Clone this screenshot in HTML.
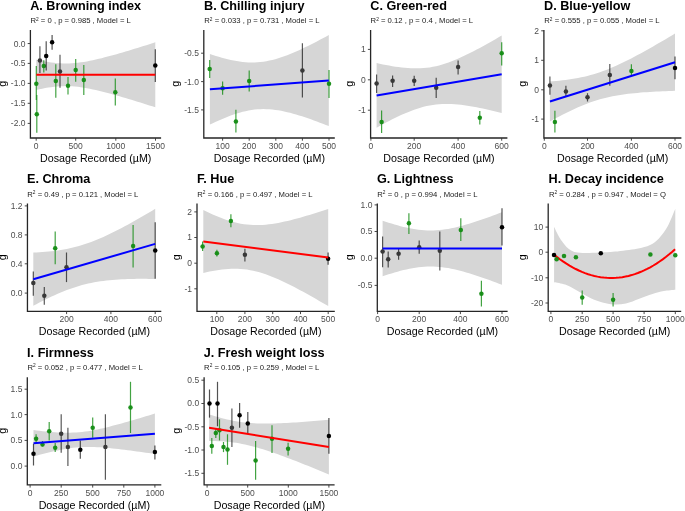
<!DOCTYPE html><html><head><meta charset="utf-8"><style>html,body{margin:0;padding:0;background:#fff;}svg{display:block;will-change:transform;}text{font-family:"Liberation Sans",sans-serif;}</style></head><body>
<svg width="685" height="511" viewBox="0 0 685 511">
<rect width="685" height="511" fill="#fff"/>
<polygon points="36.30,59.70 39.27,60.35 42.25,60.96 45.22,61.52 48.20,62.02 51.17,62.46 54.15,62.83 57.12,63.13 60.10,63.34 63.08,63.46 66.05,63.50 69.03,63.44 72.00,63.30 74.97,63.07 77.95,62.76 80.93,62.37 83.90,61.92 86.88,61.41 89.85,60.84 92.83,60.22 95.80,59.56 98.78,58.86 101.75,58.13 104.73,57.37 107.70,56.59 110.68,55.79 113.65,54.97 116.63,54.13 119.60,53.27 122.58,52.40 125.55,51.52 128.53,50.63 131.50,49.73 134.48,48.83 137.45,47.91 140.43,46.99 143.40,46.06 146.38,45.13 149.35,44.19 152.33,43.25 155.30,42.30 155.30,107.30 152.33,106.35 149.35,105.41 146.38,104.47 143.40,103.54 140.43,102.61 137.45,101.69 134.48,100.77 131.50,99.87 128.53,98.97 125.55,98.08 122.58,97.20 119.60,96.33 116.63,95.47 113.65,94.63 110.68,93.81 107.70,93.01 104.73,92.23 101.75,91.47 98.78,90.74 95.80,90.04 92.83,89.38 89.85,88.76 86.88,88.19 83.90,87.68 80.93,87.23 77.95,86.84 74.97,86.53 72.00,86.30 69.03,86.16 66.05,86.10 63.08,86.14 60.10,86.26 57.12,86.47 54.15,86.77 51.17,87.14 48.20,87.58 45.22,88.08 42.25,88.64 39.27,89.25 36.30,89.90" fill="#d6d6d6"/>
<line x1="36.30" y1="66.10" x2="36.30" y2="100.00" stroke="#138c13" stroke-opacity="0.8" stroke-width="1.2"/>
<circle cx="36.30" cy="83.70" r="2.25" fill="#138c13" fill-opacity="0.95"/>
<line x1="36.80" y1="95.00" x2="36.80" y2="132.70" stroke="#138c13" stroke-opacity="0.8" stroke-width="1.2"/>
<circle cx="36.80" cy="114.20" r="2.25" fill="#138c13" fill-opacity="0.95"/>
<line x1="39.90" y1="46.20" x2="39.90" y2="73.00" stroke="#000" stroke-opacity="0.65" stroke-width="1.2"/>
<circle cx="39.90" cy="60.60" r="2.25" fill="#383838" fill-opacity="1"/>
<line x1="43.80" y1="60.20" x2="43.80" y2="72.40" stroke="#138c13" stroke-opacity="0.8" stroke-width="1.2"/>
<circle cx="43.80" cy="66.10" r="2.25" fill="#138c13" fill-opacity="0.95"/>
<line x1="46.20" y1="41.30" x2="46.20" y2="70.50" stroke="#000" stroke-opacity="0.68" stroke-width="1.2"/>
<circle cx="46.20" cy="56.10" r="2.25" fill="#000" fill-opacity="1"/>
<line x1="52.10" y1="35.00" x2="52.10" y2="49.70" stroke="#000" stroke-opacity="0.68" stroke-width="1.2"/>
<circle cx="52.10" cy="42.30" r="2.25" fill="#000" fill-opacity="1"/>
<line x1="55.80" y1="64.20" x2="55.80" y2="97.70" stroke="#138c13" stroke-opacity="0.8" stroke-width="1.2"/>
<circle cx="55.80" cy="80.90" r="2.25" fill="#138c13" fill-opacity="0.95"/>
<line x1="60.00" y1="54.70" x2="60.00" y2="87.80" stroke="#000" stroke-opacity="0.65" stroke-width="1.2"/>
<circle cx="60.00" cy="71.50" r="2.25" fill="#383838" fill-opacity="1"/>
<line x1="68.00" y1="77.00" x2="68.00" y2="94.50" stroke="#138c13" stroke-opacity="0.8" stroke-width="1.2"/>
<circle cx="68.00" cy="85.80" r="2.25" fill="#138c13" fill-opacity="0.95"/>
<line x1="75.70" y1="59.00" x2="75.70" y2="81.70" stroke="#138c13" stroke-opacity="0.8" stroke-width="1.2"/>
<circle cx="75.70" cy="70.10" r="2.25" fill="#138c13" fill-opacity="0.95"/>
<line x1="83.80" y1="65.00" x2="83.80" y2="95.10" stroke="#138c13" stroke-opacity="0.8" stroke-width="1.2"/>
<circle cx="83.80" cy="79.90" r="2.25" fill="#138c13" fill-opacity="0.95"/>
<line x1="115.30" y1="78.40" x2="115.30" y2="105.60" stroke="#138c13" stroke-opacity="0.8" stroke-width="1.2"/>
<circle cx="115.30" cy="92.20" r="2.25" fill="#138c13" fill-opacity="0.95"/>
<line x1="155.30" y1="49.20" x2="155.30" y2="81.90" stroke="#000" stroke-opacity="0.68" stroke-width="1.2"/>
<circle cx="155.30" cy="65.50" r="2.25" fill="#000" fill-opacity="1"/>
<line x1="36.30" y1="74.80" x2="155.30" y2="74.80" stroke="#ff0000" stroke-width="2"/>
<path d="M30.40 30.00 V138.00 H161.10" fill="none" stroke="#262626" stroke-width="1.3"/>
<line x1="27.70" y1="43.55" x2="30.40" y2="43.55" stroke="#333" stroke-width="0.9"/>
<text x="25.50" y="46.50" font-size="8.5" fill="#4d4d4d" text-anchor="end">0.0</text>
<line x1="27.70" y1="63.40" x2="30.40" y2="63.40" stroke="#333" stroke-width="0.9"/>
<text x="25.50" y="66.35" font-size="8.5" fill="#4d4d4d" text-anchor="end">-0.5</text>
<line x1="27.70" y1="83.40" x2="30.40" y2="83.40" stroke="#333" stroke-width="0.9"/>
<text x="25.50" y="86.35" font-size="8.5" fill="#4d4d4d" text-anchor="end">-1.0</text>
<line x1="27.70" y1="103.30" x2="30.40" y2="103.30" stroke="#333" stroke-width="0.9"/>
<text x="25.50" y="106.25" font-size="8.5" fill="#4d4d4d" text-anchor="end">-1.5</text>
<line x1="27.70" y1="123.40" x2="30.40" y2="123.40" stroke="#333" stroke-width="0.9"/>
<text x="25.50" y="126.35" font-size="8.5" fill="#4d4d4d" text-anchor="end">-2.0</text>
<line x1="36.20" y1="138.00" x2="36.20" y2="140.70" stroke="#333" stroke-width="0.9"/>
<text x="36.20" y="148.80" font-size="8.5" fill="#4d4d4d" text-anchor="middle">0</text>
<line x1="75.70" y1="138.00" x2="75.70" y2="140.70" stroke="#333" stroke-width="0.9"/>
<text x="75.70" y="148.80" font-size="8.5" fill="#4d4d4d" text-anchor="middle">500</text>
<line x1="115.80" y1="138.00" x2="115.80" y2="140.70" stroke="#333" stroke-width="0.9"/>
<text x="115.80" y="148.80" font-size="8.5" fill="#4d4d4d" text-anchor="middle">1000</text>
<line x1="155.50" y1="138.00" x2="155.50" y2="140.70" stroke="#333" stroke-width="0.9"/>
<text x="155.50" y="148.80" font-size="8.5" fill="#4d4d4d" text-anchor="middle">1500</text>
<text x="95.75" y="161.70" font-size="10.7" fill="#000" text-anchor="middle">Dosage Recorded (µM)</text>
<text transform="translate(6.05 83.70) rotate(-90)" font-size="10.7" fill="#000" text-anchor="middle">g</text>
<text x="30.20" y="10.10" font-size="12.65" font-weight="bold" fill="#000">A. Browning index</text>
<text x="30.50" y="23.20" font-size="7.7" fill="#1a1a1a">R<tspan font-size="4.8" dy="-2.7">2</tspan><tspan dy="2.7"> = 0 , p = 0.985 , Model = L</tspan></text>
<polygon points="209.90,54.00 212.87,54.98 215.84,55.93 218.82,56.83 221.79,57.69 224.76,58.50 227.74,59.25 230.71,59.95 233.68,60.57 236.65,61.11 239.62,61.58 242.60,61.96 245.57,62.24 248.54,62.42 251.52,62.50 254.49,62.46 257.46,62.32 260.43,62.06 263.41,61.69 266.38,61.21 269.35,60.62 272.32,59.93 275.30,59.14 278.27,58.26 281.24,57.30 284.21,56.26 287.19,55.16 290.16,53.98 293.13,52.76 296.10,51.47 299.07,50.15 302.05,48.78 305.02,47.37 307.99,45.92 310.97,44.45 313.94,42.95 316.91,41.42 319.88,39.87 322.86,38.30 325.83,36.71 328.80,35.10 328.80,126.10 325.83,124.93 322.86,123.77 319.88,122.64 316.91,121.52 313.94,120.43 310.97,119.36 307.99,118.32 305.02,117.31 302.05,116.34 299.07,115.40 296.10,114.51 293.13,113.66 290.16,112.87 287.19,112.13 284.21,111.46 281.24,110.86 278.27,110.33 275.30,109.89 272.32,109.54 269.35,109.28 266.38,109.13 263.41,109.08 260.43,109.14 257.46,109.32 254.49,109.61 251.52,110.01 248.54,110.52 245.57,111.14 242.60,111.86 239.62,112.67 236.65,113.57 233.68,114.55 230.71,115.61 227.74,116.74 224.76,117.92 221.79,119.17 218.82,120.46 215.84,121.80 212.87,123.18 209.90,124.60" fill="#d6d6d6"/>
<line x1="209.70" y1="59.90" x2="209.70" y2="78.00" stroke="#138c13" stroke-opacity="0.8" stroke-width="1.2"/>
<circle cx="209.70" cy="68.90" r="2.25" fill="#138c13" fill-opacity="0.95"/>
<line x1="222.60" y1="81.50" x2="222.60" y2="94.80" stroke="#138c13" stroke-opacity="0.8" stroke-width="1.2"/>
<circle cx="222.60" cy="88.20" r="2.25" fill="#138c13" fill-opacity="0.95"/>
<line x1="235.90" y1="109.80" x2="235.90" y2="132.40" stroke="#138c13" stroke-opacity="0.8" stroke-width="1.2"/>
<circle cx="235.90" cy="121.40" r="2.25" fill="#138c13" fill-opacity="0.95"/>
<line x1="249.20" y1="70.50" x2="249.20" y2="91.50" stroke="#138c13" stroke-opacity="0.8" stroke-width="1.2"/>
<circle cx="249.20" cy="80.90" r="2.25" fill="#138c13" fill-opacity="0.95"/>
<line x1="302.40" y1="43.30" x2="302.40" y2="97.50" stroke="#000" stroke-opacity="0.65" stroke-width="1.2"/>
<circle cx="302.40" cy="70.50" r="2.25" fill="#383838" fill-opacity="1"/>
<line x1="329.00" y1="69.90" x2="329.00" y2="98.10" stroke="#138c13" stroke-opacity="0.8" stroke-width="1.2"/>
<circle cx="329.00" cy="83.80" r="2.25" fill="#138c13" fill-opacity="0.95"/>
<line x1="209.90" y1="89.30" x2="328.80" y2="80.60" stroke="#0000ff" stroke-width="2"/>
<path d="M203.80 30.00 V138.00 H334.80" fill="none" stroke="#262626" stroke-width="1.3"/>
<line x1="201.10" y1="53.20" x2="203.80" y2="53.20" stroke="#333" stroke-width="0.9"/>
<text x="198.90" y="56.15" font-size="8.5" fill="#4d4d4d" text-anchor="end">-0.5</text>
<line x1="201.10" y1="81.60" x2="203.80" y2="81.60" stroke="#333" stroke-width="0.9"/>
<text x="198.90" y="84.55" font-size="8.5" fill="#4d4d4d" text-anchor="end">-1.0</text>
<line x1="201.10" y1="109.90" x2="203.80" y2="109.90" stroke="#333" stroke-width="0.9"/>
<text x="198.90" y="112.85" font-size="8.5" fill="#4d4d4d" text-anchor="end">-1.5</text>
<line x1="222.60" y1="138.00" x2="222.60" y2="140.70" stroke="#333" stroke-width="0.9"/>
<text x="222.60" y="148.80" font-size="8.5" fill="#4d4d4d" text-anchor="middle">100</text>
<line x1="249.20" y1="138.00" x2="249.20" y2="140.70" stroke="#333" stroke-width="0.9"/>
<text x="249.20" y="148.80" font-size="8.5" fill="#4d4d4d" text-anchor="middle">200</text>
<line x1="275.80" y1="138.00" x2="275.80" y2="140.70" stroke="#333" stroke-width="0.9"/>
<text x="275.80" y="148.80" font-size="8.5" fill="#4d4d4d" text-anchor="middle">300</text>
<line x1="302.40" y1="138.00" x2="302.40" y2="140.70" stroke="#333" stroke-width="0.9"/>
<text x="302.40" y="148.80" font-size="8.5" fill="#4d4d4d" text-anchor="middle">400</text>
<line x1="329.00" y1="138.00" x2="329.00" y2="140.70" stroke="#333" stroke-width="0.9"/>
<text x="329.00" y="148.80" font-size="8.5" fill="#4d4d4d" text-anchor="middle">500</text>
<text x="269.30" y="161.70" font-size="10.7" fill="#000" text-anchor="middle">Dosage Recorded (µM)</text>
<text transform="translate(179.45 83.70) rotate(-90)" font-size="10.7" fill="#000" text-anchor="middle">g</text>
<text x="204.00" y="10.10" font-size="12.65" font-weight="bold" fill="#000">B. Chilling injury</text>
<text x="204.30" y="23.20" font-size="7.7" fill="#1a1a1a">R<tspan font-size="4.8" dy="-2.7">2</tspan><tspan dy="2.7"> = 0.033 , p = 0.731 , Model = L</tspan></text>
<polygon points="376.60,63.10 379.73,63.77 382.86,64.41 385.98,65.02 389.11,65.59 392.24,66.13 395.37,66.63 398.49,67.07 401.62,67.47 404.75,67.80 407.88,68.06 411.00,68.25 414.13,68.36 417.26,68.37 420.38,68.29 423.51,68.10 426.64,67.79 429.77,67.38 432.89,66.84 436.02,66.19 439.15,65.42 442.28,64.55 445.40,63.56 448.53,62.48 451.66,61.31 454.79,60.06 457.91,58.73 461.04,57.33 464.17,55.87 467.30,54.36 470.43,52.80 473.55,51.20 476.68,49.56 479.81,47.89 482.94,46.19 486.06,44.46 489.19,42.70 492.32,40.93 495.44,39.14 498.57,37.33 501.70,35.50 501.70,112.90 498.57,112.13 495.44,111.38 492.32,110.65 489.19,109.94 486.06,109.24 482.94,108.57 479.81,107.93 476.68,107.32 473.55,106.74 470.43,106.20 467.30,105.70 464.17,105.25 461.04,104.85 457.91,104.51 454.79,104.24 451.66,104.05 448.53,103.94 445.40,103.92 442.28,103.99 439.15,104.18 436.02,104.47 432.89,104.88 429.77,105.40 426.64,106.05 423.51,106.80 420.38,107.67 417.26,108.65 414.13,109.72 411.00,110.89 407.88,112.14 404.75,113.46 401.62,114.85 398.49,116.31 395.37,117.81 392.24,119.37 389.11,120.97 385.98,122.60 382.86,124.27 379.73,125.97 376.60,127.70" fill="#d6d6d6"/>
<line x1="376.60" y1="74.50" x2="376.60" y2="93.10" stroke="#000" stroke-opacity="0.65" stroke-width="1.2"/>
<circle cx="376.60" cy="83.40" r="2.25" fill="#383838" fill-opacity="1"/>
<line x1="381.60" y1="110.40" x2="381.60" y2="133.00" stroke="#138c13" stroke-opacity="0.8" stroke-width="1.2"/>
<circle cx="381.60" cy="122.00" r="2.25" fill="#138c13" fill-opacity="0.95"/>
<line x1="392.60" y1="75.50" x2="392.60" y2="87.10" stroke="#000" stroke-opacity="0.65" stroke-width="1.2"/>
<circle cx="392.60" cy="80.80" r="2.25" fill="#383838" fill-opacity="1"/>
<line x1="414.20" y1="75.80" x2="414.20" y2="86.10" stroke="#000" stroke-opacity="0.65" stroke-width="1.2"/>
<circle cx="414.20" cy="80.80" r="2.25" fill="#383838" fill-opacity="1"/>
<line x1="436.20" y1="77.80" x2="436.20" y2="98.10" stroke="#000" stroke-opacity="0.65" stroke-width="1.2"/>
<circle cx="436.20" cy="87.80" r="2.25" fill="#383838" fill-opacity="1"/>
<line x1="458.10" y1="60.50" x2="458.10" y2="74.50" stroke="#000" stroke-opacity="0.65" stroke-width="1.2"/>
<circle cx="458.10" cy="67.10" r="2.25" fill="#383838" fill-opacity="1"/>
<line x1="479.80" y1="111.10" x2="479.80" y2="124.40" stroke="#138c13" stroke-opacity="0.8" stroke-width="1.2"/>
<circle cx="479.80" cy="117.70" r="2.25" fill="#138c13" fill-opacity="0.95"/>
<line x1="501.70" y1="42.20" x2="501.70" y2="65.50" stroke="#138c13" stroke-opacity="0.8" stroke-width="1.2"/>
<circle cx="501.70" cy="53.20" r="2.25" fill="#138c13" fill-opacity="0.95"/>
<line x1="376.60" y1="95.40" x2="501.70" y2="74.20" stroke="#0000ff" stroke-width="2"/>
<path d="M370.60 30.00 V138.00 H507.40" fill="none" stroke="#262626" stroke-width="1.3"/>
<line x1="367.90" y1="49.40" x2="370.60" y2="49.40" stroke="#333" stroke-width="0.9"/>
<text x="365.70" y="52.35" font-size="8.5" fill="#4d4d4d" text-anchor="end">1</text>
<line x1="367.90" y1="79.80" x2="370.60" y2="79.80" stroke="#333" stroke-width="0.9"/>
<text x="365.70" y="82.75" font-size="8.5" fill="#4d4d4d" text-anchor="end">0</text>
<line x1="367.90" y1="110.20" x2="370.60" y2="110.20" stroke="#333" stroke-width="0.9"/>
<text x="365.70" y="113.15" font-size="8.5" fill="#4d4d4d" text-anchor="end">-1</text>
<line x1="370.90" y1="138.00" x2="370.90" y2="140.70" stroke="#333" stroke-width="0.9"/>
<text x="370.90" y="148.80" font-size="8.5" fill="#4d4d4d" text-anchor="middle">0</text>
<line x1="414.20" y1="138.00" x2="414.20" y2="140.70" stroke="#333" stroke-width="0.9"/>
<text x="414.20" y="148.80" font-size="8.5" fill="#4d4d4d" text-anchor="middle">200</text>
<line x1="458.10" y1="138.00" x2="458.10" y2="140.70" stroke="#333" stroke-width="0.9"/>
<text x="458.10" y="148.80" font-size="8.5" fill="#4d4d4d" text-anchor="middle">400</text>
<line x1="501.70" y1="138.00" x2="501.70" y2="140.70" stroke="#333" stroke-width="0.9"/>
<text x="501.70" y="148.80" font-size="8.5" fill="#4d4d4d" text-anchor="middle">600</text>
<text x="439.00" y="161.70" font-size="10.7" fill="#000" text-anchor="middle">Dosage Recorded (µM)</text>
<text transform="translate(352.80 83.70) rotate(-90)" font-size="10.7" fill="#000" text-anchor="middle">g</text>
<text x="370.30" y="10.10" font-size="12.65" font-weight="bold" fill="#000">C. Green-red</text>
<text x="370.60" y="23.20" font-size="7.7" fill="#1a1a1a">R<tspan font-size="4.8" dy="-2.7">2</tspan><tspan dy="2.7"> = 0.12 , p = 0.4 , Model = L</tspan></text>
<polygon points="549.90,81.50 553.03,81.24 556.15,80.96 559.28,80.65 562.41,80.31 565.54,79.93 568.66,79.51 571.79,79.05 574.92,78.54 578.05,77.98 581.17,77.36 584.30,76.68 587.43,75.93 590.56,75.11 593.68,74.22 596.81,73.26 599.94,72.22 603.07,71.11 606.19,69.93 609.32,68.69 612.45,67.37 615.58,66.00 618.71,64.57 621.83,63.09 624.96,61.57 628.09,60.00 631.22,58.40 634.34,56.76 637.47,55.09 640.60,53.40 643.73,51.68 646.85,49.94 649.98,48.18 653.11,46.40 656.24,44.61 659.36,42.80 662.49,40.98 665.62,39.15 668.75,37.31 671.87,35.46 675.00,33.60 675.00,90.80 671.87,90.91 668.75,91.02 665.62,91.14 662.49,91.28 659.36,91.42 656.24,91.58 653.11,91.75 649.98,91.94 646.85,92.15 643.73,92.37 640.60,92.62 637.47,92.89 634.34,93.18 631.22,93.51 628.09,93.87 624.96,94.27 621.83,94.71 618.71,95.20 615.58,95.73 612.45,96.33 609.32,96.98 606.19,97.70 603.07,98.48 599.94,99.34 596.81,100.26 593.68,101.27 590.56,102.34 587.43,103.49 584.30,104.71 581.17,105.99 578.05,107.34 574.92,108.74 571.79,110.19 568.66,111.70 565.54,113.25 562.41,114.83 559.28,116.46 556.15,118.11 553.03,119.79 549.90,121.50" fill="#d6d6d6"/>
<line x1="549.90" y1="76.50" x2="549.90" y2="94.80" stroke="#000" stroke-opacity="0.65" stroke-width="1.2"/>
<circle cx="549.90" cy="85.50" r="2.25" fill="#383838" fill-opacity="1"/>
<line x1="554.90" y1="110.80" x2="554.90" y2="132.40" stroke="#138c13" stroke-opacity="0.8" stroke-width="1.2"/>
<circle cx="554.90" cy="122.10" r="2.25" fill="#138c13" fill-opacity="0.95"/>
<line x1="565.90" y1="85.80" x2="565.90" y2="96.50" stroke="#000" stroke-opacity="0.65" stroke-width="1.2"/>
<circle cx="565.90" cy="91.50" r="2.25" fill="#383838" fill-opacity="1"/>
<line x1="587.50" y1="93.20" x2="587.50" y2="101.50" stroke="#000" stroke-opacity="0.65" stroke-width="1.2"/>
<circle cx="587.50" cy="97.20" r="2.25" fill="#383838" fill-opacity="1"/>
<line x1="609.80" y1="63.90" x2="609.80" y2="85.80" stroke="#000" stroke-opacity="0.65" stroke-width="1.2"/>
<circle cx="609.80" cy="74.90" r="2.25" fill="#383838" fill-opacity="1"/>
<line x1="631.40" y1="64.20" x2="631.40" y2="75.90" stroke="#138c13" stroke-opacity="0.8" stroke-width="1.2"/>
<circle cx="631.40" cy="70.90" r="2.25" fill="#138c13" fill-opacity="0.95"/>
<line x1="675.00" y1="56.60" x2="675.00" y2="79.20" stroke="#000" stroke-opacity="0.68" stroke-width="1.2"/>
<circle cx="675.00" cy="67.90" r="2.25" fill="#000" fill-opacity="1"/>
<line x1="549.90" y1="101.50" x2="675.00" y2="62.20" stroke="#0000ff" stroke-width="2"/>
<path d="M543.90 30.00 V138.00 H681.40" fill="none" stroke="#262626" stroke-width="1.3"/>
<line x1="541.20" y1="30.80" x2="543.90" y2="30.80" stroke="#333" stroke-width="0.9"/>
<text x="539.00" y="33.75" font-size="8.5" fill="#4d4d4d" text-anchor="end">2</text>
<line x1="541.20" y1="60.30" x2="543.90" y2="60.30" stroke="#333" stroke-width="0.9"/>
<text x="539.00" y="63.25" font-size="8.5" fill="#4d4d4d" text-anchor="end">1</text>
<line x1="541.20" y1="89.80" x2="543.90" y2="89.80" stroke="#333" stroke-width="0.9"/>
<text x="539.00" y="92.75" font-size="8.5" fill="#4d4d4d" text-anchor="end">0</text>
<line x1="541.20" y1="119.10" x2="543.90" y2="119.10" stroke="#333" stroke-width="0.9"/>
<text x="539.00" y="122.05" font-size="8.5" fill="#4d4d4d" text-anchor="end">-1</text>
<line x1="544.30" y1="138.00" x2="544.30" y2="140.70" stroke="#333" stroke-width="0.9"/>
<text x="544.30" y="148.80" font-size="8.5" fill="#4d4d4d" text-anchor="middle">0</text>
<line x1="587.50" y1="138.00" x2="587.50" y2="140.70" stroke="#333" stroke-width="0.9"/>
<text x="587.50" y="148.80" font-size="8.5" fill="#4d4d4d" text-anchor="middle">200</text>
<line x1="631.40" y1="138.00" x2="631.40" y2="140.70" stroke="#333" stroke-width="0.9"/>
<text x="631.40" y="148.80" font-size="8.5" fill="#4d4d4d" text-anchor="middle">400</text>
<line x1="675.00" y1="138.00" x2="675.00" y2="140.70" stroke="#333" stroke-width="0.9"/>
<text x="675.00" y="148.80" font-size="8.5" fill="#4d4d4d" text-anchor="middle">600</text>
<text x="612.65" y="161.70" font-size="10.7" fill="#000" text-anchor="middle">Dosage Recorded (µM)</text>
<text transform="translate(526.30 83.70) rotate(-90)" font-size="10.7" fill="#000" text-anchor="middle">g</text>
<text x="544.00" y="10.10" font-size="12.65" font-weight="bold" fill="#000">D. Blue-yellow</text>
<text x="544.30" y="23.20" font-size="7.7" fill="#1a1a1a">R<tspan font-size="4.8" dy="-2.7">2</tspan><tspan dy="2.7"> = 0.555 , p = 0.055 , Model = L</tspan></text>
<polygon points="33.30,252.60 36.35,252.47 39.39,252.30 42.44,252.11 45.49,251.87 48.54,251.60 51.58,251.28 54.63,250.91 57.68,250.50 60.73,250.03 63.77,249.51 66.82,248.93 69.87,248.28 72.92,247.58 75.97,246.80 79.01,245.96 82.06,245.05 85.11,244.08 88.16,243.04 91.20,241.93 94.25,240.77 97.30,239.54 100.34,238.25 103.39,236.92 106.44,235.53 109.49,234.09 112.53,232.61 115.58,231.09 118.63,229.53 121.68,227.94 124.72,226.31 127.77,224.66 130.82,222.98 133.87,221.27 136.91,219.55 139.96,217.80 143.01,216.03 146.06,214.25 149.10,212.44 152.15,210.63 155.20,208.80 155.20,279.00 152.15,278.94 149.10,278.89 146.06,278.85 143.01,278.83 139.96,278.83 136.91,278.84 133.87,278.88 130.82,278.94 127.77,279.02 124.72,279.14 121.68,279.28 118.63,279.45 115.58,279.65 112.53,279.90 109.49,280.18 106.44,280.51 103.39,280.89 100.34,281.32 97.30,281.80 94.25,282.33 91.20,282.93 88.16,283.59 85.11,284.32 82.06,285.11 79.01,285.96 75.97,286.89 72.92,287.88 69.87,288.94 66.82,290.06 63.77,291.24 60.73,292.48 57.68,293.78 54.63,295.13 51.58,296.53 48.54,297.98 45.49,299.47 42.44,301.00 39.39,302.57 36.35,304.17 33.30,305.80" fill="#d6d6d6"/>
<line x1="33.30" y1="271.50" x2="33.30" y2="295.80" stroke="#000" stroke-opacity="0.65" stroke-width="1.2"/>
<circle cx="33.30" cy="283.10" r="2.25" fill="#383838" fill-opacity="1"/>
<line x1="44.30" y1="287.10" x2="44.30" y2="304.80" stroke="#000" stroke-opacity="0.65" stroke-width="1.2"/>
<circle cx="44.30" cy="295.80" r="2.25" fill="#383838" fill-opacity="1"/>
<line x1="55.20" y1="231.50" x2="55.20" y2="264.20" stroke="#138c13" stroke-opacity="0.8" stroke-width="1.2"/>
<circle cx="55.20" cy="248.20" r="2.25" fill="#138c13" fill-opacity="0.95"/>
<line x1="66.50" y1="252.50" x2="66.50" y2="282.10" stroke="#000" stroke-opacity="0.65" stroke-width="1.2"/>
<circle cx="66.50" cy="267.20" r="2.25" fill="#383838" fill-opacity="1"/>
<line x1="133.10" y1="224.90" x2="133.10" y2="267.50" stroke="#138c13" stroke-opacity="0.8" stroke-width="1.2"/>
<circle cx="133.10" cy="245.90" r="2.25" fill="#138c13" fill-opacity="0.95"/>
<line x1="155.20" y1="222.20" x2="155.20" y2="278.80" stroke="#000" stroke-opacity="0.68" stroke-width="1.2"/>
<circle cx="155.20" cy="250.50" r="2.25" fill="#000" fill-opacity="1"/>
<line x1="33.30" y1="279.20" x2="155.20" y2="243.90" stroke="#0000ff" stroke-width="2"/>
<path d="M27.45 203.40 V311.40 H161.30" fill="none" stroke="#262626" stroke-width="1.3"/>
<line x1="24.75" y1="205.90" x2="27.45" y2="205.90" stroke="#333" stroke-width="0.9"/>
<text x="22.55" y="208.85" font-size="8.5" fill="#4d4d4d" text-anchor="end">1.2</text>
<line x1="24.75" y1="234.90" x2="27.45" y2="234.90" stroke="#333" stroke-width="0.9"/>
<text x="22.55" y="237.85" font-size="8.5" fill="#4d4d4d" text-anchor="end">0.8</text>
<line x1="24.75" y1="263.80" x2="27.45" y2="263.80" stroke="#333" stroke-width="0.9"/>
<text x="22.55" y="266.75" font-size="8.5" fill="#4d4d4d" text-anchor="end">0.4</text>
<line x1="24.75" y1="293.10" x2="27.45" y2="293.10" stroke="#333" stroke-width="0.9"/>
<text x="22.55" y="296.05" font-size="8.5" fill="#4d4d4d" text-anchor="end">0.0</text>
<line x1="66.60" y1="311.40" x2="66.60" y2="314.10" stroke="#333" stroke-width="0.9"/>
<text x="66.60" y="322.20" font-size="8.5" fill="#4d4d4d" text-anchor="middle">200</text>
<line x1="110.90" y1="311.40" x2="110.90" y2="314.10" stroke="#333" stroke-width="0.9"/>
<text x="110.90" y="322.20" font-size="8.5" fill="#4d4d4d" text-anchor="middle">400</text>
<line x1="155.20" y1="311.40" x2="155.20" y2="314.10" stroke="#333" stroke-width="0.9"/>
<text x="155.20" y="322.20" font-size="8.5" fill="#4d4d4d" text-anchor="middle">600</text>
<text x="94.38" y="335.10" font-size="10.7" fill="#000" text-anchor="middle">Dosage Recorded (µM)</text>
<text transform="translate(6.05 257.20) rotate(-90)" font-size="10.7" fill="#000" text-anchor="middle">g</text>
<text x="27.00" y="183.30" font-size="12.65" font-weight="bold" fill="#000">E. Chroma</text>
<text x="27.30" y="196.50" font-size="7.7" fill="#1a1a1a">R<tspan font-size="4.8" dy="-2.7">2</tspan><tspan dy="2.7"> = 0.49 , p = 0.121 , Model = L</tspan></text>
<polygon points="203.30,210.00 206.42,211.52 209.55,212.99 212.67,214.40 215.79,215.76 218.91,217.05 222.03,218.27 225.16,219.41 228.28,220.46 231.40,221.42 234.53,222.27 237.65,223.02 240.77,223.66 243.89,224.18 247.01,224.59 250.14,224.87 253.26,225.05 256.38,225.11 259.50,225.06 262.63,224.91 265.75,224.66 268.87,224.33 272.00,223.92 275.12,223.43 278.24,222.88 281.36,222.27 284.49,221.61 287.61,220.89 290.73,220.14 293.85,219.34 296.98,218.51 300.10,217.65 303.22,216.76 306.34,215.84 309.47,214.90 312.59,213.94 315.71,212.97 318.83,211.97 321.95,210.96 325.08,209.94 328.20,208.90 328.20,306.10 325.08,304.26 321.95,302.44 318.83,300.63 315.71,298.83 312.59,297.06 309.47,295.30 306.34,293.56 303.22,291.84 300.10,290.15 296.98,288.49 293.85,286.86 290.73,285.26 287.61,283.71 284.49,282.19 281.36,280.73 278.24,279.32 275.12,277.97 272.00,276.68 268.87,275.47 265.75,274.34 262.63,273.29 259.50,272.34 256.38,271.49 253.26,270.75 250.14,270.13 247.01,269.61 243.89,269.22 240.77,268.94 237.65,268.78 234.53,268.73 231.40,268.78 228.28,268.94 225.16,269.19 222.03,269.53 218.91,269.95 215.79,270.44 212.67,271.00 209.55,271.61 206.42,272.28 203.30,273.00" fill="#d6d6d6"/>
<line x1="202.60" y1="241.50" x2="202.60" y2="251.00" stroke="#138c13" stroke-opacity="0.8" stroke-width="1.2"/>
<circle cx="202.60" cy="246.50" r="2.25" fill="#138c13" fill-opacity="0.95"/>
<line x1="216.90" y1="249.80" x2="216.90" y2="256.50" stroke="#138c13" stroke-opacity="0.8" stroke-width="1.2"/>
<circle cx="216.90" cy="253.20" r="2.25" fill="#138c13" fill-opacity="0.95"/>
<line x1="230.90" y1="214.30" x2="230.90" y2="227.20" stroke="#138c13" stroke-opacity="0.8" stroke-width="1.2"/>
<circle cx="230.90" cy="220.90" r="2.25" fill="#138c13" fill-opacity="0.95"/>
<line x1="244.90" y1="248.80" x2="244.90" y2="261.50" stroke="#000" stroke-opacity="0.65" stroke-width="1.2"/>
<circle cx="244.90" cy="254.80" r="2.25" fill="#383838" fill-opacity="1"/>
<line x1="328.10" y1="252.50" x2="328.10" y2="264.80" stroke="#000" stroke-opacity="0.68" stroke-width="1.2"/>
<circle cx="328.10" cy="258.80" r="2.25" fill="#000" fill-opacity="1"/>
<line x1="203.30" y1="241.50" x2="328.20" y2="257.50" stroke="#ff0000" stroke-width="2"/>
<path d="M197.00 203.40 V311.40 H334.80" fill="none" stroke="#262626" stroke-width="1.3"/>
<line x1="194.30" y1="211.90" x2="197.00" y2="211.90" stroke="#333" stroke-width="0.9"/>
<text x="192.10" y="214.85" font-size="8.5" fill="#4d4d4d" text-anchor="end">2</text>
<line x1="194.30" y1="237.50" x2="197.00" y2="237.50" stroke="#333" stroke-width="0.9"/>
<text x="192.10" y="240.45" font-size="8.5" fill="#4d4d4d" text-anchor="end">1</text>
<line x1="194.30" y1="263.20" x2="197.00" y2="263.20" stroke="#333" stroke-width="0.9"/>
<text x="192.10" y="266.15" font-size="8.5" fill="#4d4d4d" text-anchor="end">0</text>
<line x1="194.30" y1="288.80" x2="197.00" y2="288.80" stroke="#333" stroke-width="0.9"/>
<text x="192.10" y="291.75" font-size="8.5" fill="#4d4d4d" text-anchor="end">-1</text>
<line x1="216.80" y1="311.40" x2="216.80" y2="314.10" stroke="#333" stroke-width="0.9"/>
<text x="216.80" y="322.20" font-size="8.5" fill="#4d4d4d" text-anchor="middle">100</text>
<line x1="244.90" y1="311.40" x2="244.90" y2="314.10" stroke="#333" stroke-width="0.9"/>
<text x="244.90" y="322.20" font-size="8.5" fill="#4d4d4d" text-anchor="middle">200</text>
<line x1="272.70" y1="311.40" x2="272.70" y2="314.10" stroke="#333" stroke-width="0.9"/>
<text x="272.70" y="322.20" font-size="8.5" fill="#4d4d4d" text-anchor="middle">300</text>
<line x1="300.50" y1="311.40" x2="300.50" y2="314.10" stroke="#333" stroke-width="0.9"/>
<text x="300.50" y="322.20" font-size="8.5" fill="#4d4d4d" text-anchor="middle">400</text>
<line x1="328.20" y1="311.40" x2="328.20" y2="314.10" stroke="#333" stroke-width="0.9"/>
<text x="328.20" y="322.20" font-size="8.5" fill="#4d4d4d" text-anchor="middle">500</text>
<text x="265.90" y="335.10" font-size="10.7" fill="#000" text-anchor="middle">Dosage Recorded (µM)</text>
<text transform="translate(179.50 257.20) rotate(-90)" font-size="10.7" fill="#000" text-anchor="middle">g</text>
<text x="197.00" y="183.30" font-size="12.65" font-weight="bold" fill="#000">F. Hue</text>
<text x="197.30" y="196.50" font-size="7.7" fill="#1a1a1a">R<tspan font-size="4.8" dy="-2.7">2</tspan><tspan dy="2.7"> = 0.166 , p = 0.497 , Model = L</tspan></text>
<polygon points="382.60,220.70 385.59,221.69 388.57,222.65 391.56,223.58 394.54,224.47 397.53,225.33 400.51,226.13 403.50,226.89 406.48,227.59 409.47,228.23 412.45,228.80 415.44,229.30 418.42,229.72 421.41,230.05 424.39,230.29 427.38,230.44 430.36,230.50 433.35,230.46 436.33,230.32 439.31,230.09 442.30,229.77 445.29,229.37 448.27,228.88 451.25,228.32 454.24,227.69 457.23,227.00 460.21,226.25 463.19,225.45 466.18,224.61 469.17,223.72 472.15,222.80 475.13,221.84 478.12,220.86 481.11,219.84 484.09,218.81 487.07,217.75 490.06,216.67 493.05,215.57 496.03,214.46 499.01,213.34 502.00,212.20 502.00,284.80 499.01,283.66 496.03,282.54 493.05,281.43 490.06,280.33 487.07,279.25 484.09,278.19 481.11,277.16 478.12,276.14 475.13,275.16 472.15,274.20 469.17,273.28 466.18,272.39 463.19,271.55 460.21,270.75 457.23,270.00 454.24,269.31 451.25,268.68 448.27,268.12 445.29,267.63 442.30,267.23 439.31,266.91 436.33,266.68 433.35,266.54 430.36,266.50 427.38,266.56 424.39,266.71 421.41,266.95 418.42,267.28 415.44,267.70 412.45,268.20 409.47,268.77 406.48,269.41 403.50,270.11 400.51,270.87 397.53,271.67 394.54,272.53 391.56,273.42 388.57,274.35 385.59,275.31 382.60,276.30" fill="#d6d6d6"/>
<line x1="382.60" y1="236.50" x2="382.60" y2="267.20" stroke="#000" stroke-opacity="0.65" stroke-width="1.2"/>
<circle cx="382.60" cy="251.50" r="2.25" fill="#383838" fill-opacity="1"/>
<line x1="388.20" y1="251.50" x2="388.20" y2="267.50" stroke="#000" stroke-opacity="0.65" stroke-width="1.2"/>
<circle cx="388.20" cy="259.20" r="2.25" fill="#383838" fill-opacity="1"/>
<line x1="398.60" y1="248.20" x2="398.60" y2="259.80" stroke="#000" stroke-opacity="0.65" stroke-width="1.2"/>
<circle cx="398.60" cy="253.80" r="2.25" fill="#383838" fill-opacity="1"/>
<line x1="408.90" y1="213.30" x2="408.90" y2="233.90" stroke="#138c13" stroke-opacity="0.8" stroke-width="1.2"/>
<circle cx="408.90" cy="223.20" r="2.25" fill="#138c13" fill-opacity="0.95"/>
<line x1="419.20" y1="240.50" x2="419.20" y2="253.80" stroke="#000" stroke-opacity="0.65" stroke-width="1.2"/>
<circle cx="419.20" cy="247.20" r="2.25" fill="#383838" fill-opacity="1"/>
<line x1="439.80" y1="231.50" x2="439.80" y2="270.50" stroke="#000" stroke-opacity="0.65" stroke-width="1.2"/>
<circle cx="439.80" cy="250.80" r="2.25" fill="#383838" fill-opacity="1"/>
<line x1="460.80" y1="218.20" x2="460.80" y2="240.90" stroke="#138c13" stroke-opacity="0.8" stroke-width="1.2"/>
<circle cx="460.80" cy="229.90" r="2.25" fill="#138c13" fill-opacity="0.95"/>
<line x1="481.40" y1="280.80" x2="481.40" y2="306.40" stroke="#138c13" stroke-opacity="0.8" stroke-width="1.2"/>
<circle cx="481.40" cy="293.80" r="2.25" fill="#138c13" fill-opacity="0.95"/>
<line x1="502.00" y1="208.30" x2="502.00" y2="245.50" stroke="#000" stroke-opacity="0.68" stroke-width="1.2"/>
<circle cx="502.00" cy="227.20" r="2.25" fill="#000" fill-opacity="1"/>
<line x1="382.60" y1="248.50" x2="502.00" y2="248.50" stroke="#0000ff" stroke-width="2"/>
<path d="M377.30 203.40 V311.40 H507.60" fill="none" stroke="#262626" stroke-width="1.3"/>
<line x1="374.60" y1="204.90" x2="377.30" y2="204.90" stroke="#333" stroke-width="0.9"/>
<text x="372.40" y="207.85" font-size="8.5" fill="#4d4d4d" text-anchor="end">1.0</text>
<line x1="374.60" y1="231.50" x2="377.30" y2="231.50" stroke="#333" stroke-width="0.9"/>
<text x="372.40" y="234.45" font-size="8.5" fill="#4d4d4d" text-anchor="end">0.5</text>
<line x1="374.60" y1="258.20" x2="377.30" y2="258.20" stroke="#333" stroke-width="0.9"/>
<text x="372.40" y="261.15" font-size="8.5" fill="#4d4d4d" text-anchor="end">0.0</text>
<line x1="374.60" y1="285.40" x2="377.30" y2="285.40" stroke="#333" stroke-width="0.9"/>
<text x="372.40" y="288.35" font-size="8.5" fill="#4d4d4d" text-anchor="end">-0.5</text>
<line x1="377.60" y1="311.40" x2="377.60" y2="314.10" stroke="#333" stroke-width="0.9"/>
<text x="377.60" y="322.20" font-size="8.5" fill="#4d4d4d" text-anchor="middle">0</text>
<line x1="419.20" y1="311.40" x2="419.20" y2="314.10" stroke="#333" stroke-width="0.9"/>
<text x="419.20" y="322.20" font-size="8.5" fill="#4d4d4d" text-anchor="middle">200</text>
<line x1="460.40" y1="311.40" x2="460.40" y2="314.10" stroke="#333" stroke-width="0.9"/>
<text x="460.40" y="322.20" font-size="8.5" fill="#4d4d4d" text-anchor="middle">400</text>
<line x1="502.00" y1="311.40" x2="502.00" y2="314.10" stroke="#333" stroke-width="0.9"/>
<text x="502.00" y="322.20" font-size="8.5" fill="#4d4d4d" text-anchor="middle">600</text>
<text x="442.45" y="335.10" font-size="10.7" fill="#000" text-anchor="middle">Dosage Recorded (µM)</text>
<text transform="translate(352.80 257.20) rotate(-90)" font-size="10.7" fill="#000" text-anchor="middle">g</text>
<text x="377.00" y="183.30" font-size="12.65" font-weight="bold" fill="#000">G. Lightness</text>
<text x="377.30" y="196.50" font-size="7.7" fill="#1a1a1a">R<tspan font-size="4.8" dy="-2.7">2</tspan><tspan dy="2.7"> = 0 , p = 0.994 , Model = L</tspan></text>
<path d="M554.10 226.80 C554.78 228.22 556.92 232.92 558.20 235.30 C559.48 237.68 560.42 239.15 561.80 241.10 C563.18 243.05 564.93 245.43 566.50 247.00 C568.07 248.57 569.63 249.62 571.20 250.50 C572.77 251.38 573.55 251.87 575.90 252.30 C578.25 252.73 581.38 253.05 585.30 253.10 C589.22 253.15 594.45 252.85 599.40 252.60 C604.35 252.35 608.75 252.25 615.00 251.60 C621.25 250.95 631.05 249.80 636.90 248.70 C642.75 247.60 646.43 246.72 650.10 245.00 C653.77 243.28 655.97 241.52 658.90 238.40 C661.83 235.28 664.97 231.23 667.70 226.30 C670.43 221.37 674.03 211.72 675.30 208.80 L675.30 289.80 C673.40 290.02 667.70 290.40 663.90 291.10 C660.10 291.80 656.62 292.73 652.50 294.00 C648.38 295.27 643.63 297.12 639.20 298.70 C634.77 300.28 630.33 302.55 625.90 303.50 C621.47 304.45 617.03 304.72 612.60 304.40 C608.17 304.08 603.40 302.87 599.30 301.60 C595.20 300.33 592.10 298.87 588.00 296.80 C583.90 294.73 578.50 291.25 574.70 289.20 C570.90 287.15 568.63 285.67 565.20 284.50 C561.77 283.33 555.95 282.58 554.10 282.20 Z" fill="#d6d6d6"/>
<polyline points="554.00,254.70 557.11,257.15 560.21,259.47 563.32,261.65 566.42,263.70 569.53,265.61 572.63,267.38 575.74,269.02 578.84,270.51 581.95,271.88 585.05,273.10 588.16,274.19 591.26,275.14 594.37,275.96 597.47,276.64 600.58,277.18 603.68,277.59 606.79,277.86 609.89,277.99 613.00,277.98 616.10,277.84 619.21,277.57 622.31,277.15 625.42,276.60 628.52,275.92 631.63,275.09 634.73,274.13 637.84,273.03 640.94,271.80 644.05,270.43 647.15,268.93 650.26,267.28 653.36,265.50 656.47,263.59 659.57,261.53 662.68,259.34 665.78,257.02 668.89,254.55 671.99,251.96 675.10,249.22" fill="none" stroke="#ff0000" stroke-width="2"/>
<circle cx="554.00" cy="255.00" r="2.25" fill="#000" fill-opacity="1"/>
<circle cx="556.60" cy="259.20" r="2.25" fill="#138c13" fill-opacity="0.95"/>
<circle cx="564.00" cy="256.00" r="2.25" fill="#138c13" fill-opacity="0.95"/>
<circle cx="575.90" cy="257.20" r="2.25" fill="#138c13" fill-opacity="0.95"/>
<line x1="582.20" y1="290.40" x2="582.20" y2="304.80" stroke="#138c13" stroke-opacity="0.8" stroke-width="1.2"/>
<circle cx="582.20" cy="297.40" r="2.25" fill="#138c13" fill-opacity="0.95"/>
<circle cx="600.80" cy="253.20" r="2.25" fill="#000" fill-opacity="1"/>
<line x1="613.10" y1="293.10" x2="613.10" y2="306.40" stroke="#138c13" stroke-opacity="0.8" stroke-width="1.2"/>
<circle cx="613.10" cy="299.80" r="2.25" fill="#138c13" fill-opacity="0.95"/>
<circle cx="650.40" cy="254.50" r="2.25" fill="#138c13" fill-opacity="0.95"/>
<circle cx="675.30" cy="255.20" r="2.25" fill="#138c13" fill-opacity="0.95"/>
<path d="M548.20 203.40 V311.40 H681.20" fill="none" stroke="#262626" stroke-width="1.3"/>
<line x1="545.50" y1="227.10" x2="548.20" y2="227.10" stroke="#333" stroke-width="0.9"/>
<text x="543.30" y="230.05" font-size="8.5" fill="#4d4d4d" text-anchor="end">10</text>
<line x1="545.50" y1="252.20" x2="548.20" y2="252.20" stroke="#333" stroke-width="0.9"/>
<text x="543.30" y="255.15" font-size="8.5" fill="#4d4d4d" text-anchor="end">0</text>
<line x1="545.50" y1="277.80" x2="548.20" y2="277.80" stroke="#333" stroke-width="0.9"/>
<text x="543.30" y="280.75" font-size="8.5" fill="#4d4d4d" text-anchor="end">-10</text>
<line x1="545.50" y1="303.00" x2="548.20" y2="303.00" stroke="#333" stroke-width="0.9"/>
<text x="543.30" y="305.95" font-size="8.5" fill="#4d4d4d" text-anchor="end">-20</text>
<line x1="550.90" y1="311.40" x2="550.90" y2="314.10" stroke="#333" stroke-width="0.9"/>
<text x="550.90" y="322.20" font-size="8.5" fill="#4d4d4d" text-anchor="middle">0</text>
<line x1="582.20" y1="311.40" x2="582.20" y2="314.10" stroke="#333" stroke-width="0.9"/>
<text x="582.20" y="322.20" font-size="8.5" fill="#4d4d4d" text-anchor="middle">250</text>
<line x1="613.10" y1="311.40" x2="613.10" y2="314.10" stroke="#333" stroke-width="0.9"/>
<text x="613.10" y="322.20" font-size="8.5" fill="#4d4d4d" text-anchor="middle">500</text>
<line x1="644.10" y1="311.40" x2="644.10" y2="314.10" stroke="#333" stroke-width="0.9"/>
<text x="644.10" y="322.20" font-size="8.5" fill="#4d4d4d" text-anchor="middle">750</text>
<line x1="675.30" y1="311.40" x2="675.30" y2="314.10" stroke="#333" stroke-width="0.9"/>
<text x="675.30" y="322.20" font-size="8.5" fill="#4d4d4d" text-anchor="middle">1000</text>
<text x="614.70" y="335.10" font-size="10.7" fill="#000" text-anchor="middle">Dosage Recorded (µM)</text>
<text transform="translate(526.30 257.20) rotate(-90)" font-size="10.7" fill="#000" text-anchor="middle">g</text>
<text x="548.60" y="183.30" font-size="12.65" font-weight="bold" fill="#000">H. Decay incidence</text>
<text x="548.90" y="196.50" font-size="7.7" fill="#1a1a1a">R<tspan font-size="4.8" dy="-2.7">2</tspan><tspan dy="2.7"> = 0.284 , p = 0.947 , Model = Q</tspan></text>
<polygon points="33.50,430.10 36.53,430.46 39.57,430.81 42.61,431.15 45.64,431.46 48.67,431.74 51.71,432.00 54.75,432.23 57.78,432.42 60.82,432.57 63.85,432.67 66.89,432.71 69.92,432.69 72.95,432.61 75.99,432.46 79.03,432.23 82.06,431.94 85.09,431.57 88.13,431.13 91.16,430.63 94.20,430.07 97.23,429.47 100.27,428.82 103.31,428.13 106.34,427.40 109.38,426.65 112.41,425.87 115.45,425.07 118.48,424.25 121.52,423.42 124.55,422.57 127.59,421.71 130.62,420.84 133.66,419.96 136.69,419.07 139.72,418.17 142.76,417.27 145.80,416.36 148.83,415.44 151.87,414.52 154.90,413.60 154.90,454.00 151.87,453.55 148.83,453.11 145.80,452.67 142.76,452.23 139.72,451.81 136.69,451.38 133.66,450.97 130.62,450.56 127.59,450.17 124.55,449.78 121.52,449.41 118.48,449.05 115.45,448.70 112.41,448.38 109.38,448.08 106.34,447.80 103.31,447.55 100.27,447.33 97.23,447.16 94.20,447.03 91.16,446.94 88.13,446.92 85.09,446.96 82.06,447.06 79.03,447.24 75.99,447.49 72.95,447.81 69.92,448.21 66.89,448.66 63.85,449.18 60.82,449.76 57.78,450.38 54.75,451.05 51.71,451.75 48.67,452.48 45.64,453.24 42.61,454.03 39.57,454.84 36.53,455.66 33.50,456.50" fill="#d6d6d6"/>
<line x1="33.50" y1="443.70" x2="33.50" y2="465.50" stroke="#000" stroke-opacity="0.68" stroke-width="1.2"/>
<circle cx="33.50" cy="453.80" r="2.25" fill="#000" fill-opacity="1"/>
<line x1="36.10" y1="434.30" x2="36.10" y2="442.70" stroke="#138c13" stroke-opacity="0.8" stroke-width="1.2"/>
<circle cx="36.10" cy="438.70" r="2.25" fill="#138c13" fill-opacity="0.95"/>
<line x1="42.50" y1="441.00" x2="42.50" y2="446.40" stroke="#138c13" stroke-opacity="0.8" stroke-width="1.2"/>
<circle cx="42.50" cy="444.40" r="2.25" fill="#138c13" fill-opacity="0.95"/>
<line x1="49.20" y1="422.00" x2="49.20" y2="440.40" stroke="#138c13" stroke-opacity="0.8" stroke-width="1.2"/>
<circle cx="49.20" cy="431.30" r="2.25" fill="#138c13" fill-opacity="0.95"/>
<line x1="55.20" y1="443.00" x2="55.20" y2="452.10" stroke="#138c13" stroke-opacity="0.8" stroke-width="1.2"/>
<circle cx="55.20" cy="447.70" r="2.25" fill="#138c13" fill-opacity="0.95"/>
<line x1="61.20" y1="414.30" x2="61.20" y2="452.70" stroke="#000" stroke-opacity="0.65" stroke-width="1.2"/>
<circle cx="61.20" cy="433.70" r="2.25" fill="#383838" fill-opacity="1"/>
<line x1="67.90" y1="427.70" x2="67.90" y2="466.10" stroke="#000" stroke-opacity="0.65" stroke-width="1.2"/>
<circle cx="67.90" cy="447.10" r="2.25" fill="#383838" fill-opacity="1"/>
<line x1="80.30" y1="440.40" x2="80.30" y2="458.80" stroke="#000" stroke-opacity="0.68" stroke-width="1.2"/>
<circle cx="80.30" cy="449.70" r="2.25" fill="#000" fill-opacity="1"/>
<line x1="92.70" y1="417.60" x2="92.70" y2="437.70" stroke="#138c13" stroke-opacity="0.8" stroke-width="1.2"/>
<circle cx="92.70" cy="427.70" r="2.25" fill="#138c13" fill-opacity="0.95"/>
<line x1="105.40" y1="414.30" x2="105.40" y2="479.80" stroke="#000" stroke-opacity="0.65" stroke-width="1.2"/>
<circle cx="105.40" cy="447.10" r="2.25" fill="#383838" fill-opacity="1"/>
<line x1="130.50" y1="381.80" x2="130.50" y2="433.00" stroke="#138c13" stroke-opacity="0.8" stroke-width="1.2"/>
<circle cx="130.50" cy="407.60" r="2.25" fill="#138c13" fill-opacity="0.95"/>
<line x1="154.90" y1="445.40" x2="154.90" y2="459.40" stroke="#000" stroke-opacity="0.68" stroke-width="1.2"/>
<circle cx="154.90" cy="452.10" r="2.25" fill="#000" fill-opacity="1"/>
<line x1="33.50" y1="443.30" x2="154.90" y2="433.80" stroke="#0000ff" stroke-width="2"/>
<path d="M27.30 377.30 V484.90 H161.30" fill="none" stroke="#262626" stroke-width="1.3"/>
<line x1="24.60" y1="389.20" x2="27.30" y2="389.20" stroke="#333" stroke-width="0.9"/>
<text x="22.40" y="392.15" font-size="8.5" fill="#4d4d4d" text-anchor="end">1.5</text>
<line x1="24.60" y1="414.60" x2="27.30" y2="414.60" stroke="#333" stroke-width="0.9"/>
<text x="22.40" y="417.55" font-size="8.5" fill="#4d4d4d" text-anchor="end">1.0</text>
<line x1="24.60" y1="440.40" x2="27.30" y2="440.40" stroke="#333" stroke-width="0.9"/>
<text x="22.40" y="443.35" font-size="8.5" fill="#4d4d4d" text-anchor="end">0.5</text>
<line x1="24.60" y1="466.10" x2="27.30" y2="466.10" stroke="#333" stroke-width="0.9"/>
<text x="22.40" y="469.05" font-size="8.5" fill="#4d4d4d" text-anchor="end">0.0</text>
<line x1="30.10" y1="484.90" x2="30.10" y2="487.60" stroke="#333" stroke-width="0.9"/>
<text x="30.10" y="495.70" font-size="8.5" fill="#4d4d4d" text-anchor="middle">0</text>
<line x1="61.20" y1="484.90" x2="61.20" y2="487.60" stroke="#333" stroke-width="0.9"/>
<text x="61.20" y="495.70" font-size="8.5" fill="#4d4d4d" text-anchor="middle">250</text>
<line x1="92.70" y1="484.90" x2="92.70" y2="487.60" stroke="#333" stroke-width="0.9"/>
<text x="92.70" y="495.70" font-size="8.5" fill="#4d4d4d" text-anchor="middle">500</text>
<line x1="123.80" y1="484.90" x2="123.80" y2="487.60" stroke="#333" stroke-width="0.9"/>
<text x="123.80" y="495.70" font-size="8.5" fill="#4d4d4d" text-anchor="middle">750</text>
<line x1="154.90" y1="484.90" x2="154.90" y2="487.60" stroke="#333" stroke-width="0.9"/>
<text x="154.90" y="495.70" font-size="8.5" fill="#4d4d4d" text-anchor="middle">1000</text>
<text x="94.30" y="508.60" font-size="10.7" fill="#000" text-anchor="middle">Dosage Recorded (µM)</text>
<text transform="translate(6.05 430.90) rotate(-90)" font-size="10.7" fill="#000" text-anchor="middle">g</text>
<text x="27.10" y="356.50" font-size="12.65" font-weight="bold" fill="#000">I. Firmness</text>
<text x="27.40" y="369.50" font-size="7.7" fill="#1a1a1a">R<tspan font-size="4.8" dy="-2.7">2</tspan><tspan dy="2.7"> = 0.052 , p = 0.477 , Model = L</tspan></text>
<polygon points="209.10,414.40 212.09,415.35 215.09,416.26 218.08,417.12 221.08,417.95 224.07,418.72 227.07,419.44 230.06,420.11 233.06,420.71 236.05,421.26 239.05,421.74 242.04,422.16 245.04,422.52 248.03,422.82 251.03,423.06 254.02,423.26 257.02,423.40 260.01,423.50 263.01,423.55 266.00,423.57 269.00,423.56 272.00,423.52 274.99,423.45 277.99,423.35 280.98,423.24 283.97,423.11 286.97,422.96 289.96,422.79 292.96,422.62 295.95,422.43 298.95,422.22 301.94,422.01 304.94,421.79 307.94,421.57 310.93,421.33 313.92,421.09 316.92,420.84 319.91,420.59 322.91,420.33 325.90,420.07 328.90,419.80 328.90,474.40 325.90,473.16 322.91,471.93 319.91,470.70 316.92,469.48 313.92,468.26 310.93,467.05 307.94,465.84 304.94,464.65 301.94,463.46 298.95,462.28 295.95,461.10 292.96,459.94 289.96,458.80 286.97,457.66 283.97,456.54 280.98,455.44 277.99,454.36 274.99,453.29 272.00,452.25 269.00,451.24 266.00,450.26 263.01,449.31 260.01,448.39 257.02,447.52 254.02,446.69 251.03,445.92 248.03,445.19 245.04,444.52 242.04,443.91 239.05,443.36 236.05,442.87 233.06,442.45 230.06,442.08 227.07,441.78 224.07,441.53 221.08,441.33 218.08,441.19 215.09,441.08 212.09,441.02 209.10,441.00" fill="#d6d6d6"/>
<line x1="209.50" y1="389.50" x2="209.50" y2="417.60" stroke="#000" stroke-opacity="0.68" stroke-width="1.2"/>
<circle cx="209.50" cy="403.60" r="2.25" fill="#000" fill-opacity="1"/>
<line x1="211.80" y1="438.00" x2="211.80" y2="453.80" stroke="#138c13" stroke-opacity="0.8" stroke-width="1.2"/>
<circle cx="211.80" cy="446.10" r="2.25" fill="#138c13" fill-opacity="0.95"/>
<line x1="215.80" y1="428.00" x2="215.80" y2="438.00" stroke="#138c13" stroke-opacity="0.8" stroke-width="1.2"/>
<circle cx="215.80" cy="433.00" r="2.25" fill="#138c13" fill-opacity="0.95"/>
<line x1="217.50" y1="381.80" x2="217.50" y2="426.30" stroke="#000" stroke-opacity="0.68" stroke-width="1.2"/>
<circle cx="217.50" cy="403.60" r="2.25" fill="#000" fill-opacity="1"/>
<line x1="219.50" y1="419.30" x2="219.50" y2="440.40" stroke="#138c13" stroke-opacity="0.8" stroke-width="1.2"/>
<circle cx="219.50" cy="430.30" r="2.25" fill="#138c13" fill-opacity="0.95"/>
<line x1="223.50" y1="442.00" x2="223.50" y2="452.10" stroke="#138c13" stroke-opacity="0.8" stroke-width="1.2"/>
<circle cx="223.50" cy="447.10" r="2.25" fill="#138c13" fill-opacity="0.95"/>
<line x1="227.50" y1="434.30" x2="227.50" y2="464.80" stroke="#138c13" stroke-opacity="0.8" stroke-width="1.2"/>
<circle cx="227.50" cy="449.40" r="2.25" fill="#138c13" fill-opacity="0.95"/>
<line x1="231.90" y1="408.60" x2="231.90" y2="447.10" stroke="#000" stroke-opacity="0.65" stroke-width="1.2"/>
<circle cx="231.90" cy="427.70" r="2.25" fill="#383838" fill-opacity="1"/>
<line x1="239.60" y1="402.90" x2="239.60" y2="427.70" stroke="#000" stroke-opacity="0.68" stroke-width="1.2"/>
<circle cx="239.60" cy="415.30" r="2.25" fill="#000" fill-opacity="1"/>
<line x1="247.80" y1="411.90" x2="247.80" y2="433.00" stroke="#000" stroke-opacity="0.68" stroke-width="1.2"/>
<circle cx="247.80" cy="423.60" r="2.25" fill="#000" fill-opacity="1"/>
<line x1="255.60" y1="441.00" x2="255.60" y2="479.80" stroke="#138c13" stroke-opacity="0.8" stroke-width="1.2"/>
<circle cx="255.60" cy="460.40" r="2.25" fill="#138c13" fill-opacity="0.95"/>
<line x1="272.00" y1="425.30" x2="272.00" y2="453.10" stroke="#138c13" stroke-opacity="0.8" stroke-width="1.2"/>
<circle cx="272.00" cy="438.70" r="2.25" fill="#138c13" fill-opacity="0.95"/>
<line x1="288.10" y1="442.70" x2="288.10" y2="455.40" stroke="#138c13" stroke-opacity="0.8" stroke-width="1.2"/>
<circle cx="288.10" cy="448.70" r="2.25" fill="#138c13" fill-opacity="0.95"/>
<line x1="328.90" y1="418.00" x2="328.90" y2="453.80" stroke="#000" stroke-opacity="0.68" stroke-width="1.2"/>
<circle cx="328.90" cy="436.00" r="2.25" fill="#000" fill-opacity="1"/>
<line x1="209.10" y1="427.70" x2="328.90" y2="447.10" stroke="#ff0000" stroke-width="2"/>
<path d="M204.10 377.30 V484.90 H334.60" fill="none" stroke="#262626" stroke-width="1.3"/>
<line x1="201.40" y1="380.20" x2="204.10" y2="380.20" stroke="#333" stroke-width="0.9"/>
<text x="199.20" y="383.15" font-size="8.5" fill="#4d4d4d" text-anchor="end">0.5</text>
<line x1="201.40" y1="403.50" x2="204.10" y2="403.50" stroke="#333" stroke-width="0.9"/>
<text x="199.20" y="406.45" font-size="8.5" fill="#4d4d4d" text-anchor="end">0.0</text>
<line x1="201.40" y1="426.80" x2="204.10" y2="426.80" stroke="#333" stroke-width="0.9"/>
<text x="199.20" y="429.75" font-size="8.5" fill="#4d4d4d" text-anchor="end">-0.5</text>
<line x1="201.40" y1="450.00" x2="204.10" y2="450.00" stroke="#333" stroke-width="0.9"/>
<text x="199.20" y="452.95" font-size="8.5" fill="#4d4d4d" text-anchor="end">-1.0</text>
<line x1="201.40" y1="473.30" x2="204.10" y2="473.30" stroke="#333" stroke-width="0.9"/>
<text x="199.20" y="476.25" font-size="8.5" fill="#4d4d4d" text-anchor="end">-1.5</text>
<line x1="207.10" y1="484.90" x2="207.10" y2="487.60" stroke="#333" stroke-width="0.9"/>
<text x="207.10" y="495.70" font-size="8.5" fill="#4d4d4d" text-anchor="middle">0</text>
<line x1="247.70" y1="484.90" x2="247.70" y2="487.60" stroke="#333" stroke-width="0.9"/>
<text x="247.70" y="495.70" font-size="8.5" fill="#4d4d4d" text-anchor="middle">500</text>
<line x1="288.30" y1="484.90" x2="288.30" y2="487.60" stroke="#333" stroke-width="0.9"/>
<text x="288.30" y="495.70" font-size="8.5" fill="#4d4d4d" text-anchor="middle">1000</text>
<line x1="328.90" y1="484.90" x2="328.90" y2="487.60" stroke="#333" stroke-width="0.9"/>
<text x="328.90" y="495.70" font-size="8.5" fill="#4d4d4d" text-anchor="middle">1500</text>
<text x="269.35" y="508.60" font-size="10.7" fill="#000" text-anchor="middle">Dosage Recorded (µM)</text>
<text transform="translate(179.50 430.90) rotate(-90)" font-size="10.7" fill="#000" text-anchor="middle">g</text>
<text x="203.80" y="356.50" font-size="12.65" font-weight="bold" fill="#000">J. Fresh weight loss</text>
<text x="204.10" y="369.50" font-size="7.7" fill="#1a1a1a">R<tspan font-size="4.8" dy="-2.7">2</tspan><tspan dy="2.7"> = 0.105 , p = 0.259 , Model = L</tspan></text>
</svg></body></html>
